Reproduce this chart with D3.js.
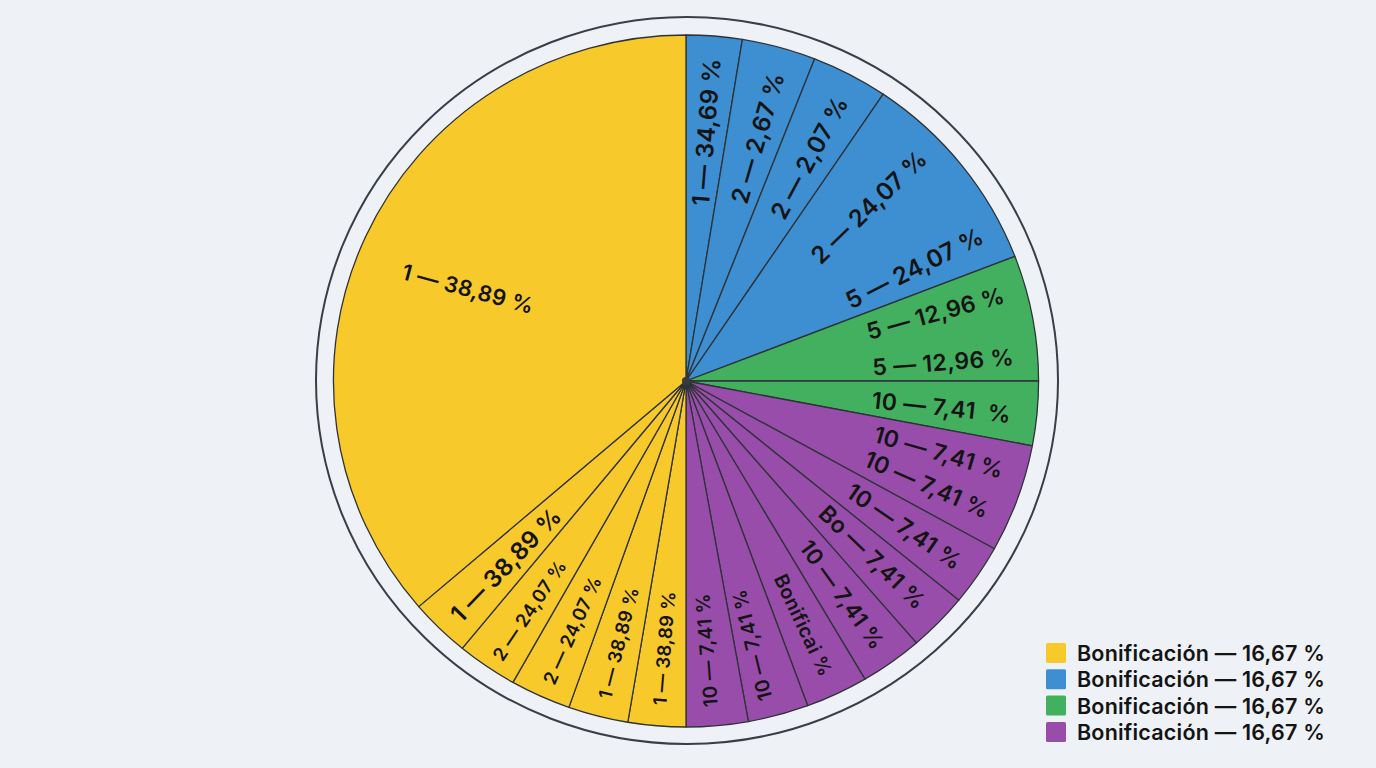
<!DOCTYPE html>
<html lang="es">
<head>
    <meta charset="UTF-8">
    <title>Bonificación</title>
    <script src="https://d3js.org/d3.v7.min.js"></script>
    <style>
        body { margin: 0; background: #eef2f6; }
        svg { display: block; font-family: Inter, "Noto Sans", sans-serif; }
    </style>
</head>
<body>
    <div id="chart-container"></div>

    <script>
        // Chart data (slice sizes, in degrees, clockwise from 12 o'clock)
        const groupColors = ["#f8c92a", "#3d8fd1", "#43b05f", "#994dab"];
        const legendLabels = ["Bonificación — 16,67 %", "Bonificación — 16,67 %", "Bonificación — 16,67 %", "Bonificación — 16,67 %"];
        const sliceValues = [9.2, 12.2, 12.6, 34.9, 21.1, 10.8, 18.2, 10.3, 9.9, 10.3, 10.3, 10.0, 10.2, 9.5, 9.9, 10.0, 10.0, 9.9, 130.7];
        const sliceGroups = [1, 1, 1, 1, 2, 2, 3, 3, 3, 3, 3, 3, 3, 0, 0, 0, 0, 0, 0];
        const sliceLabels = [
            ["1 — 34,69 %"], ["2 — 2,67 %"], ["2 — 2,07 %"], ["2 — 24,07 %", "5 — 24,07 %"],
            ["5 — 12,96 %", "5 — 12,96 %"], ["10 — 7,41  %"],
            ["10 — 7,41 %", "10 — 7,41 %"], ["10 — 7,41 %"], ["Bo — 7,41 %"], ["10 — 7,41 %"],
            ["Bonificai %"], ["10 — 7,41 %"], ["10 — 7,41 %"],
            ["1 — 38,89 %"], ["1 — 38,89 %"], ["2 — 24,07 %"], ["2 — 24,07 %"], ["1 — 38,89 %"], ["1 — 38,89 %"]
        ];

        // Label placement inside each slice: fraction of the slice, radius, font size (and rotation override)
        const labelLayout = [
            [{ t: 0.5, r: 250, s: 24 }], [{ t: 0.57, r: 253, s: 24 }], [{ t: 0.56, r: 254, s: 24 }],
            [{ t: 0.34, r: 250, s: 24 }, { t: 0.84, r: 251, s: 24 }],
            [{ t: 0.27, r: 254, s: 23 }, { t: 0.8, r: 253, s: 23 }], [{ t: 0.56, r: 252, s: 23 }],
            [{ t: 0.29, r: 258, s: 23 }, { t: 0.71, r: 258, s: 23 }], [{ t: 0.51, r: 259, s: 23 }],
            [{ t: 0.47, r: 254, s: 23 }], [{ t: 0.5, r: 263, s: 22 }], [{ t: 0.51, r: 270, s: 19.5 }],
            [{ t: 0.64, r: 272, s: 19.5 }], [{ t: 0.58, r: 270, s: 19.5 }],
            [{ t: 0.49, r: 268, s: 18.5 }], [{ t: 0.48, r: 270, s: 18.5 }], [{ t: 0.48, r: 273, s: 18.5 }],
            [{ t: 0.45, r: 276, s: 18.5 }], [{ t: 0.45, r: 255, s: 24 }], [{ t: 0.49, r: 233, s: 22, rot: 15 }]
        ];

        const width = 1376;
        const height = 768;
        const cx = 686, cy = 381;
        const radius = 346;
        const sx = 1.019; // picture is slightly wider than tall

        const svg = d3.select("#chart-container")
            .append("svg")
            .attr("width", width)
            .attr("height", height);

        svg.append("rect")
            .attr("width", width)
            .attr("height", height)
            .attr("fill", "#eef2f6");

        // Outer ring
        svg.append("ellipse")
            .attr("cx", cx + 1)
            .attr("cy", cy - 0.5)
            .attr("rx", 371)
            .attr("ry", 363.5)
            .attr("fill", "none")
            .attr("stroke", "#3a3f45")
            .attr("stroke-width", 2);

        // Define pie and arc
        const pie = d3.pie().sort(null).value(d => d);
        const arc = d3.arc().innerRadius(0).outerRadius(radius);
        const arcs = pie(sliceValues);

        const pieG = svg.append("g")
            .attr("transform", `translate(${cx},${cy}) scale(${sx},1)`);

        pieG.selectAll("path")
            .data(arcs)
            .enter()
            .append("path")
            .attr("d", arc)
            .attr("fill", (d, i) => groupColors[sliceGroups[i]])
            .attr("stroke", "#2e3338")
            .attr("stroke-width", 1.3)
            .attr("stroke-linejoin", "round")
            .attr("vector-effect", "non-scaling-stroke");

        pieG.append("circle")
            .attr("r", 4)
            .attr("fill", "#3a3a3e");

        // Slice labels, rotated along the radius
        const labelData = [];
        arcs.forEach((d, i) => {
            sliceLabels[i].forEach((text, j) => {
                const lay = labelLayout[i][j];
                const a = d.startAngle + lay.t * (d.endAngle - d.startAngle);
                const deg = a * 180 / Math.PI;
                const rot = lay.rot !== undefined ? lay.rot : (deg < 160 ? deg - 90 : deg - 270);
                labelData.push({
                    text: text,
                    x: cx + Math.sin(a) * lay.r * sx,
                    y: cy - Math.cos(a) * lay.r,
                    rot: rot,
                    size: lay.s
                });
            });
        });

        svg.append("g")
            .selectAll("text")
            .data(labelData)
            .enter()
            .append("text")
            .attr("transform", d => `translate(${d.x},${d.y}) rotate(${d.rot})`)
            .attr("text-anchor", "middle")
            .attr("dominant-baseline", "central")
            .style("white-space", "pre")
            .attr("font-size", d => d.size)
            .attr("font-weight", 600)
            .attr("letter-spacing", 0.3)
            .attr("fill", "#141414")
            .text(d => d.text);

        // Legend
        const legend = svg.append("g")
            .attr("transform", "translate(1046,643)");

        const rows = legend.selectAll("g")
            .data(legendLabels)
            .enter()
            .append("g")
            .attr("transform", (d, i) => `translate(0,${i * 26.3})`);

        rows.append("rect")
            .attr("width", 20)
            .attr("height", 20)
            .attr("rx", 1.5)
            .attr("fill", (d, i) => groupColors[i]);

        rows.append("text")
            .attr("x", 31)
            .attr("y", 10)
            .attr("dominant-baseline", "central")
            .attr("font-size", 21.5)
            .attr("font-weight", 600)
            .attr("letter-spacing", 0.2)
            .attr("fill", "#141414")
            .text(d => d);
    </script>
</body>
</html>
